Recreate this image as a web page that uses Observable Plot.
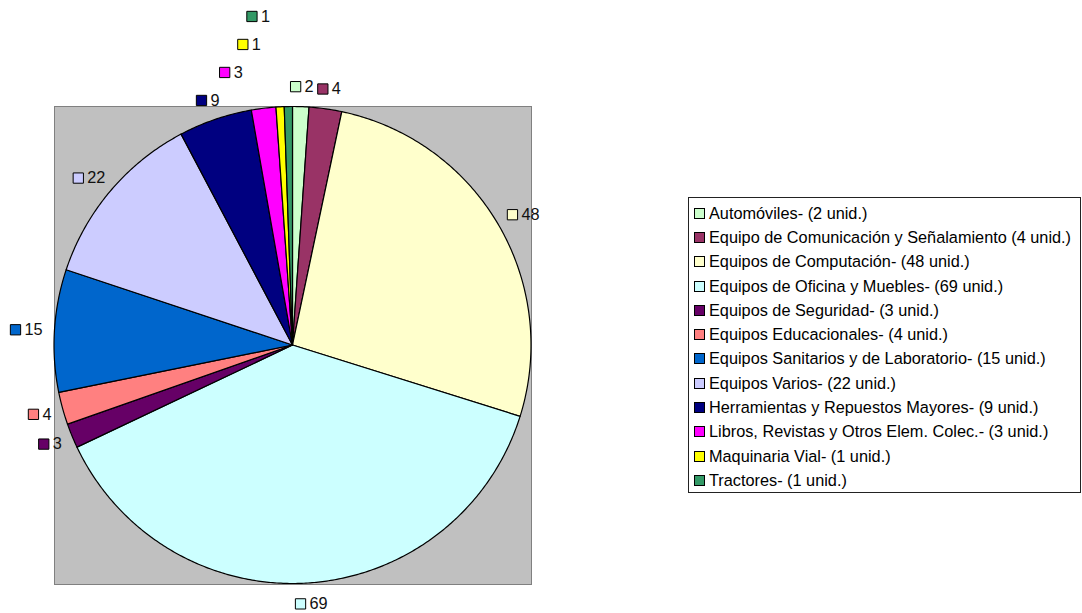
<!DOCTYPE html>
<html>
<head>
<meta charset="utf-8">
<script src="https://cdn.jsdelivr.net/npm/d3@7"></script>
<script src="https://cdn.jsdelivr.net/npm/@observablehq/plot@0.6"></script>
<style>
  body { margin: 0; background: #fff; font-family: "Liberation Sans", Arial, sans-serif; }
  #wrap { position: relative; width: 1082px; height: 613px; overflow: hidden; }
  #legend {
    position: absolute; left: 688px; top: 197px; width: 393px; height: 296px;
    box-sizing: border-box; border: 1px solid #222; background: #fff;
    padding: 3px 0 0 5px; font-size: 16.3px; color: #000;
  }
  .row { height: 24.3px; display: flex; align-items: center; white-space: nowrap; }
  .sw { width: 9px; height: 9px; border: 1px solid #000; margin-right: 4px; flex: none; }
</style>
</head>
<body>
<div id="wrap"></div>
<script>
// ---- data ----
const categories = [
  "Automóviles", "Equipo de Comunicación y Señalamiento", "Equipos de Computación",
  "Equipos de Oficina y Muebles", "Equipos de Seguridad", "Equipos Educacionales",
  "Equipos Sanitarios y de Laboratorio", "Equipos Varios", "Herramientas y Repuestos Mayores",
  "Libros, Revistas y Otros Elem. Colec.", "Maquinaria Vial", "Tractores"
];
const values = [2, 4, 48, 69, 3, 4, 15, 22, 9, 3, 1, 1];
const legendLabels = [
  "Automóviles- (2 unid.)",
  "Equipo de Comunicación y Señalamiento (4 unid.)",
  "Equipos de Computación- (48 unid.)",
  "Equipos de Oficina y Muebles- (69 unid.)",
  "Equipos de Seguridad- (3 unid.)",
  "Equipos Educacionales- (4 unid.)",
  "Equipos Sanitarios y de Laboratorio- (15 unid.)",
  "Equipos Varios- (22 unid.)",
  "Herramientas y Repuestos Mayores- (9 unid.)",
  "Libros, Revistas y Otros Elem. Colec.- (3 unid.)",
  "Maquinaria Vial- (1 unid.)",
  "Tractores- (1 unid.)"
];
const colors = [
  "#CCFFCC", "#993366", "#FFFFCC", "#CCFFFF", "#660066", "#FF8080",
  "#0066CC", "#CCCCFF", "#000080", "#FF00FF", "#FFFF00", "#339966"
];

// ---- layout (pixels) ----
const W = 1082, H = 613;
const CX = 292.5, CY = 345, R = 238.5;
const frameBox = {left: 54, top: 106, right: 531, bottom: 584};
const labelOffset = 12.5, labelGap = 28, dodgeShift = 30, charW = 9, boxH = 16, textPad = 14;

// ---- slice geometry from values ----
const total = d3.sum(values);
const pts = [];
const labels = [];
let cum = 0;
values.forEach((v, i) => {
  const a0 = cum / total * 2 * Math.PI;
  const a1 = (cum + v) / total * 2 * Math.PI;
  const n = Math.max(2, Math.ceil((a1 - a0) / (Math.PI / 360)));
  for (let k = 0; k <= n; k++) {
    const a = a0 + (a1 - a0) * k / n;
    pts.push({cat: categories[i], cx: 0, cy: 0, ex: Math.sin(a), ey: Math.cos(a)});
  }
  const am = (a0 + a1) / 2;
  const txt = String(v);
  const w = textPad + txt.length * charW;
  const ax = CX + (R + labelOffset) * Math.sin(am);
  const ay = CY - (R + labelOffset) * Math.cos(am);
  labels.push({cat: categories[i], txt, am, w,
    px: ax + Math.sin(am) * w / 2, py: ay - Math.cos(am) * boxH / 2});
  cum += v;
});
// left-side labels keep a minimum vertical spacing, moving upward
const left = labels.filter(d => d.am > Math.PI).sort((a, b) => a.am - b.am);
for (let j = 1; j < left.length; j++) {
  const lim = left[j - 1].py - labelGap;
  if (left[j].py > lim) { left[j].py = lim; left[j].px -= dodgeShift; }
}
labels.forEach(d => {
  const boxLeft = d.px - d.w / 2;
  d.sx = (boxLeft + 5 - CX) / R;
  d.tx = (boxLeft + textPad - CX) / R;
  d.sy = (CY - d.py) / R;
});

const plot = Plot.plot({
  width: W, height: H,
  marginLeft: frameBox.left, marginTop: frameBox.top,
  marginRight: W - frameBox.right, marginBottom: H - frameBox.bottom,
  x: {domain: [-1, 1], range: [CX - R, CX + R], axis: null},
  y: {domain: [-1, 1], range: [CY + R, CY - R], axis: null},
  color: {domain: categories, range: colors},
  style: {fontFamily: '"Liberation Sans", Arial, sans-serif', fontSize: "16px", background: "#fff", color: "#000"},
  marks: [
    Plot.frame({fill: "#C0C0C0", stroke: "#808080", strokeWidth: 1}),
    Plot.area(pts, {x1: "cx", y1: "cy", x2: "ex", y2: "ey", z: "cat", fill: "cat",
      stroke: "#000", strokeWidth: 1.2, strokeLinejoin: "round"}),
    Plot.dot(labels, {x: "sx", y: "sy", symbol: "square", r: 5.8, fill: "cat", stroke: "#000", strokeWidth: 1}),
    Plot.text(labels, {x: "tx", y: "sy", text: "txt", textAnchor: "start", fontSize: 16.3, fill: "#111"})
  ]
});
const wrap = document.getElementById("wrap");
wrap.appendChild(plot);

const legend = document.createElement("div");
legend.id = "legend";
legendLabels.forEach((t, i) => {
  const row = document.createElement("div");
  row.className = "row";
  const sw = document.createElement("span");
  sw.className = "sw";
  sw.style.background = colors[i];
  const tx = document.createElement("span");
  tx.textContent = t;
  row.appendChild(sw); row.appendChild(tx);
  legend.appendChild(row);
});
wrap.appendChild(legend);
</script>
</body>
</html>
